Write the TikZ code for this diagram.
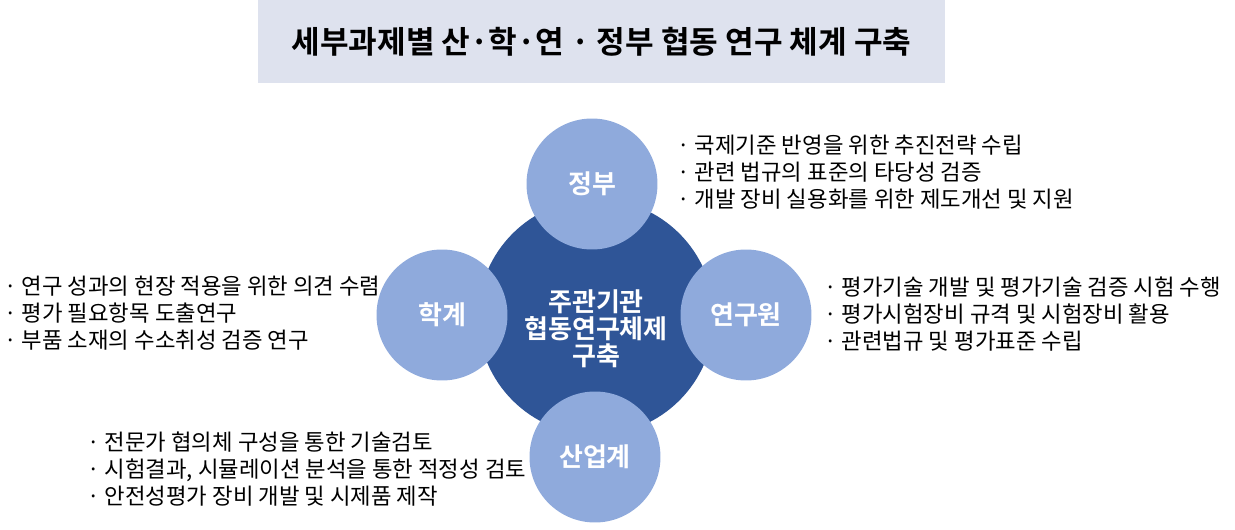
\documentclass[tikz,border=0pt]{standalone}
\usepackage{fontspec}
\setmainfont{Noto Sans CJK KR}[BoldFont={Noto Sans CJK KR Bold}]

\definecolor{hubblue}{HTML}{2F5597}
\definecolor{partblue}{HTML}{8FAADC}
\definecolor{titlegray}{HTML}{DEE2EE}

\newcommand{\tightlines}{\lineskiplimit-20pt\relax}

\begin{document}
\begin{tikzpicture}[x=0.02cm, y=-0.02cm,
    hub/.style={circle, fill=hubblue, minimum size=4.72cm, inner sep=0pt},
    hublabel/.style={text=white, align=center, inner sep=0pt,
        font=\bfseries\fontsize{14.8}{15.4}\selectfont\tightlines},
    part/.style={circle, fill=partblue, minimum size=2.62cm, inner sep=0pt,
        text=white, font=\bfseries\fontsize{14.8}{15.4}\selectfont},
    role/.style={anchor=west, align=left, inner sep=0pt,
        font=\fontsize{12.7}{15.2}\selectfont\tightlines}]

        \useasboundingbox (0,0) rectangle (1235,530);

        % Title bar
        \node[fill=titlegray, minimum width=13.74cm, minimum height=1.66cm,
              font=\bfseries\fontsize{17.7}{20}\selectfont] (title) at (601.5,41.5)
              {세부과제별 산·학·연 · 정부 협동 연구 체계 구축};

        % Central circle and the four partners
        \node[hub] (hub) at (596,317) {};
        \node[hublabel] (hubtext) at (596,329) {주관기관\\협동연구체제\\구축};
        \node[part] (gov) at (592,184) {정부};
        \node[part] (acad) at (442,315) {학계};
        \node[part] (inst) at (746,315) {연구원};
        \node[part] (ind) at (595,457) {산업계};

        % Role descriptions
        \node[role] (govtext) at (677,172)
              {· 국제기준 반영을 위한 추진전략 수립\\
               · 관련 법규의 표준의 타당성 검증\\
               · 개발 장비 실용화를 위한 제도개선 및 지원};
        \node[role] (acadtext) at (4,313)
              {· 연구 성과의 현장 적용을 위한 의견 수렴\\
               · 평가 필요항목 도출연구\\
               · 부품 소재의 수소취성 검증 연구};
        \node[role] (insttext) at (824,314)
              {· 평가기술 개발 및 평가기술 검증 시험 수행\\
               · 평가시험장비 규격 및 시험장비 활용\\
               · 관련법규 및 평가표준 수립};
        \node[role] (indtext) at (87,469)
              {· 전문가 협의체 구성을 통한 기술검토\\
               · 시험결과, 시뮬레이션 분석을 통한 적정성 검토\\
               · 안전성평가 장비 개발 및 시제품 제작};

    \end{tikzpicture}
\end{document}
